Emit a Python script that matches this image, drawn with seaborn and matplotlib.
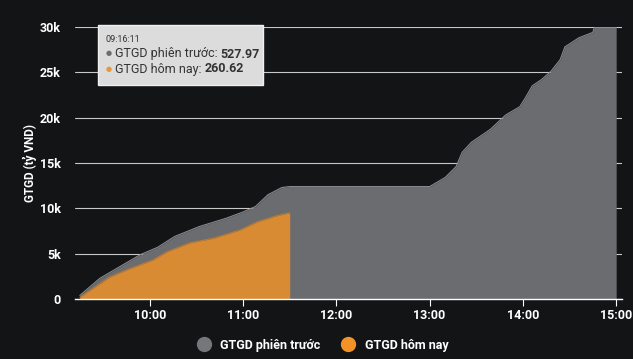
import numpy as np
import pandas as pd
import matplotlib
matplotlib.use("Agg")
import matplotlib.pyplot as plt
from matplotlib.lines import Line2D
import seaborn as sns

# dữ liệu (giờ, GTGD tỷ VND lũy kế)
prev_time = ["09:15", "09:28", "09:41", "09:54", "10:05", "10:16", "10:32", "10:49",
             "11:00", "11:08", "11:16", "11:25", "11:30", "12:00", "12:30", "13:00",
             "13:04", "13:10", "13:17", "13:21", "13:27", "13:39", "13:49", "13:58",
             "14:02", "14:06", "14:12", "14:18", "14:24", "14:27", "14:36", "14:45",
             "14:46", "15:00"]
prev_value = [400, 2300, 3600, 4900, 5700, 6900, 8000, 8900,
              9600, 10200, 11500, 12300, 12400, 12400, 12400, 12400,
              12800, 13400, 14600, 16200, 17300, 18700, 20300, 21200,
              22300, 23500, 24200, 25100, 26400, 27800, 28800, 29400,
              30000, 30000]

today_time = ["09:15", "09:34", "09:45", "10:02", "10:11", "10:26", "10:41", "10:58",
              "11:09", "11:22", "11:30"]
today_value = [200, 2400, 3200, 4300, 5200, 6200, 6700, 7600,
               8500, 9200, 9500]

yticks = [0, 5000, 10000, 15000, 20000, 25000, 30000]
ytick_labels = ["0", "5k", "10k", "15k", "20k", "25k", "30k"]
xtick_labels = ["10:00", "11:00", "12:00", "13:00", "14:00", "15:00"]


def to_hours(t):
    h, m = t.split(":")
    return int(h) + int(m) / 60


df_prev = pd.DataFrame({"t": [to_hours(t) for t in prev_time], "v": prev_value})
df_today = pd.DataFrame({"t": [to_hours(t) for t in today_time], "v": today_value})

bg = "#131416"
gray = "#6b6c70"
orange = "#d98b34"

sns.set_theme(style="dark")
plt.rcParams["font.family"] = ["Roboto", "DejaVu Sans"]

fig = plt.figure(figsize=(6.33, 3.59), dpi=100, facecolor=bg)
ax = fig.add_axes([0.118, 0.167, 0.865, 0.758])
ax.set_facecolor(bg)

ax.fill_between(df_prev["t"], df_prev["v"], color=gray, linewidth=0, zorder=2)
sns.lineplot(data=df_prev, x="t", y="v", ax=ax, color="#8a8b8f", linewidth=0.8, zorder=3)
ax.fill_between(df_today["t"], df_today["v"], color=orange, linewidth=0, zorder=4)
sns.lineplot(data=df_today, x="t", y="v", ax=ax, color="#c27a2a", linewidth=0.8, zorder=5)

ax.set_xlim(9.195, 15.065)
ax.set_ylim(0, 30000)
ax.set_yticks(yticks)
ax.set_yticklabels(ytick_labels)
ax.set_xticks([to_hours(t) for t in xtick_labels])
ax.set_xticklabels(xtick_labels)
ax.grid(axis="y", color="#c8c8c8", linewidth=0.8, zorder=1)
ax.grid(axis="x", visible=False)
ax.set_axisbelow(True)
for s in ["top", "right", "left"]:
    ax.spines[s].set_visible(False)
ax.spines["bottom"].set_color("white")
ax.spines["bottom"].set_linewidth(1.0)
ax.spines["bottom"].set_zorder(6)
ax.tick_params(axis="x", colors="white", length=5, width=0.8, direction="out", bottom=True, labelsize=9, pad=2)
ax.tick_params(axis="y", colors="white", length=0, labelsize=9, pad=10)
for lbl in ax.get_xticklabels() + ax.get_yticklabels():
    lbl.set_fontweight("bold")
ax.set_xlabel("")
ax.set_ylabel("GTGD (tỷ VND)", color="white", fontsize=8.5, fontweight="bold", labelpad=2)

# tooltip
W, H = 633, 359
box = plt.Rectangle((98 / W, 1 - 85 / H), 165 / W, 60 / H, transform=fig.transFigure,
                    facecolor="#dcdcdc", edgecolor="#f0f0f0", linewidth=1, zorder=10)
fig.patches.append(box)
fig.text(106 / W, 1 - 40 / H, "09:16:11", fontsize=6.5, color="#333333", va="center", zorder=11)
renderer = fig.canvas.get_renderer()
rows = [("GTGD phiên trước: ", "527.97", "#6b6c70", 54), ("GTGD hôm nay: ", "260.62", "#e8963a", 69)]
for label, val, c, yy in rows:
    fig.text(106 / W, 1 - yy / H, "●", fontsize=5, color=c, va="center", zorder=11)
    t = fig.text(115 / W, 1 - yy / H, label, fontsize=9, color="#333333", va="center", zorder=11)
    bb = t.get_window_extent(renderer=renderer)
    fig.text(bb.x1 / fig.bbox.width, 1 - yy / H, val, fontsize=9, color="#333333",
             fontweight="bold", va="center", zorder=11)

handles = [Line2D([], [], marker="o", linestyle="", markersize=10, color="#76777b", label="GTGD phiên trước"),
           Line2D([], [], marker="o", linestyle="", markersize=10, color="#f2932a", label="GTGD hôm nay")]
leg = fig.legend(handles=handles, loc="center", bbox_to_anchor=(0.505, 1 - 345 / H), ncol=2,
                 frameon=False, handletextpad=0.3, columnspacing=1.25,
                 prop={"weight": "bold", "size": 9, "family": "Roboto"})
for t in leg.get_texts():
    t.set_color("white")

fig.savefig("out.png", dpi=100, facecolor=bg)
